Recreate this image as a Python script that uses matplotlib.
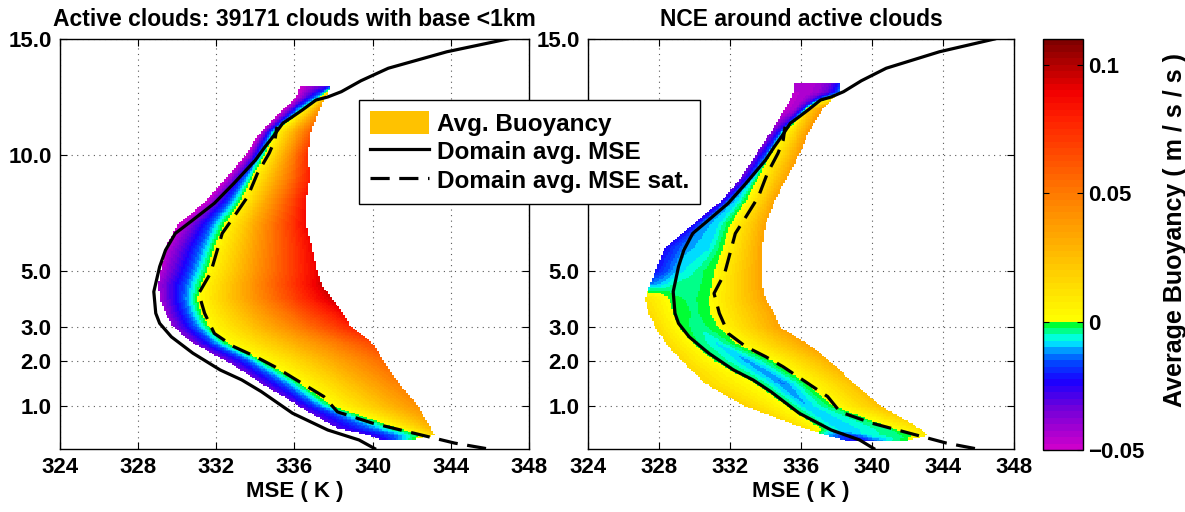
import numpy as np
import matplotlib
matplotlib.use("Agg")
import matplotlib.pyplot as plt
from matplotlib.colors import LinearSegmentedColormap
from matplotlib.patches import Patch
from matplotlib.lines import Line2D

plt.rcParams['font.family'] = ['Liberation Sans', 'DejaVu Sans']
plt.rcParams['font.weight'] = 'bold'
plt.rcParams['axes.titleweight'] = 'bold'
plt.rcParams['axes.labelweight'] = 'bold'
plt.rcParams['font.size'] = 16

# ---- domain mean profiles (MSE in K, height in km)
mse_dom = [340.1, 339.3, 337.7, 335.9, 334.3, 333.3, 332.2, 330.8, 329.7, 329.1, 328.9,
           328.8, 328.9, 329.1, 329.4, 329.9, 330.8, 331.9, 332.9, 334.0, 334.5, 334.9,
           335.4, 335.9, 336.4, 337.1, 337.7, 338.4, 339.4, 340.8, 343.8, 346.9]
z_dom = [0.06, 0.25, 0.47, 0.84, 1.32, 1.58, 1.8, 2.23, 2.71, 3.13, 3.49,
         4.26, 4.56, 5.19, 5.9, 6.62, 7.2, 7.92, 8.78, 9.78, 10.36, 10.79,
         11.37, 11.65, 11.94, 12.37, 12.5, 12.73, 13.2, 13.74, 14.45, 15.0]
mse_sat = [345.8, 344.2, 342.1, 340.0, 338.2, 337.5, 336.4, 335.0, 334.0, 332.9, 331.9,
           331.4, 331.1, 331.7, 332.0, 332.3, 332.9, 333.6, 334.1, 334.7, 335.0, 335.1]
z_sat = [0.06, 0.18, 0.40, 0.62, 0.87, 1.21, 1.50, 1.87, 2.13, 2.42, 2.81,
         3.49, 4.2, 4.92, 5.76, 6.62, 7.34, 8.2, 9.2, 10.07, 10.65, 11.22]

# ---- active clouds: per level, MSE anchors [left edge, zero, right edge] and buoyancy there
act_lev = [0.25, 0.35, 0.5, 1.0, 1.5, 2.0, 2.5, 3.0, 3.5, 4.0, 4.5, 5.0, 6.0, 7.0,
           8.0, 9.0, 10.0, 11.0, 12.0, 12.5, 12.97]
act_mse = [[340.4, 341.3, 342.0], [339.8, 342.4, 343.2], [338.2, 341.3, 343.0],
           [336.2, 337.9, 342.3], [334.3, 336.3, 341.35], [332.5, 334.4, 340.55],
           [330.85, 332.6, 340.0], [329.8, 331.6, 338.9], [329.4, 331.2, 338.5],
           [329.1, 331.0, 337.9], [329.0, 331.2, 337.4], [329.15, 331.5, 337.15],
           [329.4, 331.9, 336.9], [330.05, 332.4, 336.6], [331.45, 333.2, 336.6],
           [332.5, 333.8, 336.8], [333.5, 334.5, 336.7], [334.3, 335.0, 336.85],
           [335.45, 336.5, 337.3], [336.1, 337.3, 337.6], [336.3, 337.6, 337.85]]
act_b = [[-0.028, -0.012, -0.003], [-0.028, 0.0, 0.018], [-0.03, 0.0, 0.028],
         [-0.032, 0.0, 0.042], [-0.033, 0.0, 0.048], [-0.035, 0.0, 0.055],
         [-0.036, 0.0, 0.065], [-0.038, 0.0, 0.078], [-0.04, 0.0, 0.088],
         [-0.042, 0.0, 0.095], [-0.042, 0.0, 0.095], [-0.045, 0.0, 0.09],
         [-0.048, 0.0, 0.088], [-0.05, 0.0, 0.088], [-0.05, 0.0, 0.085],
         [-0.05, 0.0, 0.08], [-0.05, 0.0, 0.075], [-0.05, 0.0, 0.06],
         [-0.05, 0.0, 0.04], [-0.05, -0.005, 0.03], [-0.05, -0.03, -0.02]]

# ---- NCE around active clouds: five MSE anchors per level
nce_lev = [0.22, 0.35, 0.5, 1.0, 1.5, 2.0, 2.5, 3.0, 3.5, 4.0, 4.5, 5.0, 6.0, 7.0,
           8.0, 9.0, 10.0, 11.0, 12.0, 12.7, 13.1]
nce_mse = [[338.6, 339.4, 340.2, 341.0, 341.8], [337.5, 338.6, 340.0, 342.2, 343.2],
           [336.2, 337.3, 338.3, 340.8, 342.7], [332.8, 335.2, 336.3, 337.6, 340.5],
           [330.6, 333.6, 335.0, 336.3, 339.0], [329.3, 331.4, 333.0, 334.4, 337.6],
           [328.4, 330.2, 331.3, 332.4, 336.4], [327.8, 329.2, 330.3, 331.3, 334.8],
           [327.4, 328.9, 330.1, 330.9, 334.5], [327.2, 328.8, 330.0, 330.8, 334.0],
           [327.5, 328.9, 330.2, 331.0, 333.8], [327.8, 329.05, 330.2, 331.1, 333.8],
           [328.3, 329.5, 330.8, 331.6, 333.8], [329.9, 330.45, 331.3, 332.0, 334.0],
           [331.5, 331.95, 332.5, 333.0, 334.5], [332.6, 333.15, 333.5, 333.9, 335.2],
           [333.45, 334.0, 334.3, 334.8, 335.9], [334.3, 334.8, 335.1, 335.6, 336.45],
           [335.1, 335.7, 336.15, 336.5, 337.25], [335.6, 336.3, 337.0, 337.6, 338.2],
           [335.6, 336.3, 337.0, 337.6, 338.2]]
nce_b = [[-0.02, -0.025, -0.015, -0.005, -0.002], [-0.01, -0.02, -0.006, -0.001, 0.01],
         [0.012, -0.002, -0.01, -0.003, 0.012], [0.018, 0.0, -0.01, -0.002, 0.025],
         [0.015, -0.001, -0.013, 0.0, 0.025], [0.015, -0.002, -0.011, 0.0, 0.03],
         [0.015, -0.002, -0.008, 0.0, 0.035], [0.015, -0.001, -0.004, 0.0, 0.035],
         [0.015, -0.001, -0.003, 0.0, 0.035], [0.012, -0.002, -0.003, 0.0, 0.035],
         [-0.012, -0.004, -0.003, 0.0, 0.035], [-0.022, -0.009, -0.004, 0.0, 0.035],
         [-0.024, -0.011, -0.008, 0.0, 0.035], [-0.026, -0.012, -0.008, 0.0, 0.035],
         [-0.028, -0.013, -0.007, 0.002, 0.035], [-0.035, -0.015, -0.002, 0.008, 0.035],
         [-0.035, -0.015, 0.002, 0.012, 0.038], [-0.04, -0.02, 0.002, 0.015, 0.04],
         [-0.048, -0.042, -0.02, 0.02, 0.04], [-0.045, -0.045, -0.04, -0.03, -0.01],
         [-0.045, -0.045, -0.042, -0.035, -0.02]]

ytick_vals = [1, 2, 3, 5, 10, 15]
ytick_labels = ['1.0', '2.0', '3.0', '5.0', '10.0', '15.0']

# stretched vertical axis: height (km) -> plot position
z_anchor = [0.05, 1.0, 2.0, 3.0, 5.0, 10.0, 15.0]
p_anchor = [0.0, 43.0, 88.0, 122.0, 178.0, 294.0, 410.0]

def fwd(z):
    return np.interp(z, z_anchor, p_anchor)

def inv(p):
    return np.interp(p, p_anchor, z_anchor)

x_edges = np.arange(324.0, 348.001, 0.1)
x_mid = 0.5 * (x_edges[:-1] + x_edges[1:])

def build_field(lev, amse, ab):
    A = np.array(amse)
    B = np.array(ab)
    p_edges = np.arange(fwd(lev[0]), fwd(lev[-1]) + 1.5, 1.5)
    z_edges = inv(p_edges)
    z_mid = 0.5 * (z_edges[:-1] + z_edges[1:])
    C = np.full((len(z_mid), len(x_mid)), np.nan)
    for i, z in enumerate(z_mid):
        a = [np.interp(z, lev, A[:, k]) for k in range(A.shape[1])]
        b = [np.interp(z, lev, B[:, k]) for k in range(B.shape[1])]
        inside = (x_mid >= a[0]) & (x_mid <= a[-1])
        C[i, inside] = np.interp(x_mid[inside], a, b)
    return z_edges, np.ma.masked_invalid(C)

vmin, vmax = -0.05, 0.11
cpts = [(-0.05, (0.80, 0.0, 0.80)), (-0.035, (0.45, 0.0, 0.85)), (-0.024, (0.1, 0.0, 1.0)),
        (-0.016, (0.0, 0.3, 1.0)), (-0.012, (0.0, 0.6, 1.0)), (-0.008, (0.0, 1.0, 1.0)),
        (-0.004, (0.0, 1.0, 0.5)), (-0.0002, (0.0, 1.0, 0.0)), (0.0, (1.0, 1.0, 0.0)),
        (0.02, (1.0, 0.8, 0.0)), (0.05, (1.0, 0.48, 0.0)), (0.08, (1.0, 0.12, 0.0)),
        (0.09, (0.95, 0.0, 0.0)), (0.11, (0.5, 0.0, 0.0))]
cmap = LinearSegmentedColormap.from_list(
    'buoy', [((v - vmin) / (vmax - vmin), c) for v, c in cpts], N=64)

fig = plt.figure(figsize=(11.85, 5.12), dpi=100)
ax1 = fig.add_axes([60 / 1185, 1 - 449 / 512, 469 / 1185, 410 / 512])
ax2 = fig.add_axes([588 / 1185, 1 - 449 / 512, 426 / 1185, 410 / 512])
cax = fig.add_axes([1043 / 1185, 1 - 450 / 512, 40 / 1185, 411 / 512])

panels = [(ax1, act_lev, act_mse, act_b, 'Active clouds: 39171 clouds with base <1km'),
          (ax2, nce_lev, nce_mse, nce_b, 'NCE around active clouds')]
for ax, lev, amse, ab, title in panels:
    ax.set_yscale('function', functions=(fwd, inv))
    ze, C = build_field(lev, amse, ab)
    mesh = ax.pcolormesh(x_edges, ze, C, cmap=cmap, vmin=vmin, vmax=vmax, zorder=1)
    ax.plot(mse_dom, z_dom, color='black', lw=2.3, zorder=3)
    ax.plot(mse_sat, z_sat, color='black', lw=2.3, ls=(0, (6, 3)), zorder=3)
    ax.set_xlim(324, 348)
    ax.set_ylim(0.05, 15)
    ax.set_xticks(np.arange(324, 349, 4))
    ax.set_yticks(ytick_vals)
    ax.set_yticklabels(ytick_labels)
    ax.minorticks_off()
    ax.set_axisbelow(True)
    ax.grid(True, ls=(0, (1, 4)), color='0.35', lw=0.8)
    ax.tick_params(direction='in', top=True, right=True, length=5, width=0.8, pad=6)
    for s in ax.spines.values():
        s.set_linewidth(1.0)
    ax.set_xlabel('MSE ( K )', labelpad=2)
    ax.set_title(title, pad=9, fontsize=16.5)

# the legend box hides the right panel's 10.0 label in the original
ax2.set_yticklabels([t if t != '10.0' else '' for t in ytick_labels])

cb = fig.colorbar(mesh, cax=cax, ticks=[-0.05, 0, 0.05, 0.1])
cb.ax.set_yticklabels(['\u22120.05', '0', '0.05', '0.1'])
cb.ax.tick_params(direction='in', left=True, right=True, length=4, width=0.8)
cb.outline.set_linewidth(1.0)
cb.set_label('Average Buoyancy ( m / s / s )', fontsize=18)
cb.ax.yaxis.set_label_coords(3.0, 0.535)

handles = [Patch(facecolor='#ffc200', edgecolor='none'),
           Line2D([], [], color='black', lw=2.3),
           Line2D([], [], color='black', lw=2.3, ls=(0, (6, 3)))]
labels = ['Avg. Buoyancy', 'Domain avg. MSE', 'Domain avg. MSE sat.']
leg = fig.legend(handles, labels, loc='upper left', bbox_to_anchor=(359 / 1185, 1 - 100 / 512),
                 frameon=True, fancybox=False, edgecolor='black', framealpha=1,
                 fontsize=17.5, handlelength=2.45, handleheight=1.1, labelspacing=0.15,
                 borderpad=0.45, handletextpad=0.3, borderaxespad=0)
leg.get_frame().set_linewidth(1.0)

fig.savefig('out.png', dpi=100)
